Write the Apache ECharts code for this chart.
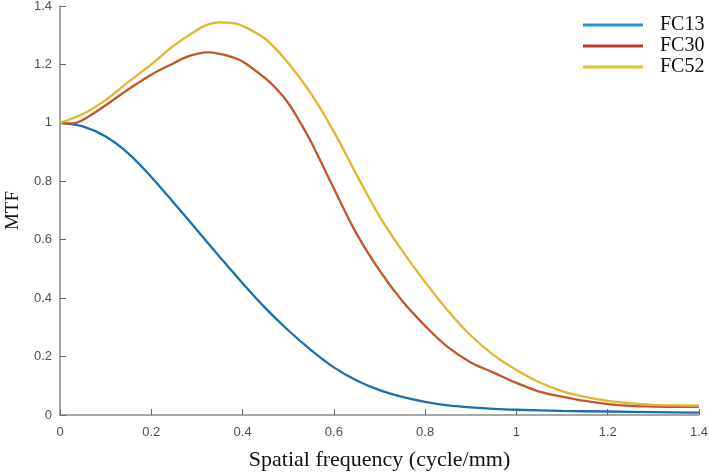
<!DOCTYPE html>
<html>
<head>
<meta charset="utf-8">
<script src="https://cdn.jsdelivr.net/npm/echarts@6/dist/echarts.min.js"></script>
<style>html,body{margin:0;padding:0;background:#fff}#c{width:709px;height:472px}</style>
</head>
<body>
<div id="c"></div>
<script>
// Data
const seriesNames = ['FC13', 'FC30', 'FC52'];
const xFC13 = [0, 0.05, 0.1, 0.15, 0.2, 0.25, 0.3, 0.35, 0.4, 0.45, 0.5, 0.55, 0.6, 0.65, 0.7, 0.75, 0.8, 0.85, 0.9, 0.95, 1.0, 1.1, 1.2, 1.3, 1.4];
const yFC13 = [1.0, 0.988, 0.953, 0.895, 0.815, 0.725, 0.633, 0.541, 0.451, 0.366, 0.29, 0.222, 0.163, 0.118, 0.085, 0.062, 0.045, 0.033, 0.026, 0.021, 0.018, 0.014, 0.012, 0.01, 0.008];
const xFC30 = [0, 0.025, 0.05, 0.1, 0.15, 0.2, 0.25, 0.275, 0.3, 0.325, 0.35, 0.375, 0.4, 0.45, 0.475, 0.5, 0.525, 0.55, 0.6, 0.65, 0.7, 0.75, 0.8, 0.85, 0.9, 0.95, 1.0, 1.05, 1.1, 1.15, 1.2, 1.25, 1.3, 1.35, 1.4];
const yFC30 = [1.0, 0.998, 1.01, 1.06, 1.115, 1.165, 1.205, 1.224, 1.236, 1.241, 1.236, 1.226, 1.21, 1.152, 1.115, 1.068, 1.005, 0.935, 0.775, 0.62, 0.495, 0.39, 0.305, 0.232, 0.18, 0.145, 0.11, 0.08, 0.063, 0.048, 0.037, 0.031, 0.029, 0.028, 0.028];
const xFC52 = [0, 0.05, 0.1, 0.15, 0.2, 0.25, 0.3, 0.325, 0.35, 0.375, 0.4, 0.45, 0.5, 0.55, 0.6, 0.65, 0.7, 0.75, 0.8, 0.85, 0.9, 0.95, 1.0, 1.05, 1.1, 1.15, 1.2, 1.25, 1.3, 1.35, 1.4];
const yFC52 = [1.0, 1.03, 1.078, 1.14, 1.2, 1.265, 1.318, 1.337, 1.344, 1.342, 1.332, 1.287, 1.205, 1.1, 0.97, 0.822, 0.68, 0.562, 0.455, 0.357, 0.272, 0.205, 0.154, 0.112, 0.082, 0.062, 0.048, 0.04, 0.035, 0.033, 0.032];
const lineColors = ['#1a6fae', '#c4552b', '#e2b52e'];
const legendColors = ['#2396cc', '#c0392b', '#e8c232'];

function pairs(xs, ys) { return xs.map((x, i) => [x, ys[i]]); }
const allData = [pairs(xFC13, yFC13), pairs(xFC30, yFC30), pairs(xFC52, yFC52)];

const chart = echarts.init(document.getElementById('c'), null, {renderer: 'canvas'});
const axisCommon = {
  type: 'value',
  min: 0, max: 1.4, interval: 0.2,
  axisLine: {show: true, lineStyle: {color: '#8a8a8a', width: 1.5}},
  axisTick: {show: true, inside: true, length: 6, lineStyle: {color: '#6a6a6a', width: 1}},
  splitLine: {show: false},
  axisLabel: {color: '#505050', fontFamily: 'Liberation Sans, Arial', fontSize: 13},
  nameTextStyle: {color: '#111', fontFamily: 'Liberation Serif, Times New Roman', fontSize: 22}
};
chart.setOption({
  animation: false,
  backgroundColor: '#fff',
  grid: {left: 60, right: 10, top: 6, bottom: 57, containLabel: false, outerBoundsMode: 'none'},
  xAxis: Object.assign({}, axisCommon, {
    name: 'Spatial frequency (cycle/mm)', nameLocation: 'middle', nameGap: 34,
    axisLabel: Object.assign({}, axisCommon.axisLabel, {margin: 11})
  }),
  yAxis: Object.assign({}, axisCommon, {
    name: 'MTF', nameLocation: 'middle', nameGap: 37,
    nameTextStyle: Object.assign({}, axisCommon.nameTextStyle, {fontSize: 19}),
    axisLabel: Object.assign({}, axisCommon.axisLabel, {margin: 8})
  }),
  legend: {
    orient: 'vertical', left: 583, top: 15, padding: 0,
    icon: 'rect', itemWidth: 60, itemHeight: 3, itemGap: 1,
    textStyle: {fontFamily: 'Liberation Serif, Times New Roman', fontSize: 20, color: '#111', lineHeight: 20, padding: [0, 0, 0, 12]},
    data: seriesNames.map((n, i) => ({name: n, itemStyle: {color: legendColors[i]}}))
  },
  series: seriesNames.map((n, i) => ({
    name: n, type: 'line', data: allData[i], smooth: 0.35, showSymbol: false,
    lineStyle: {color: lineColors[i], width: 2.3}, itemStyle: {color: lineColors[i]}
  }))
});
</script>
</body>
</html>
